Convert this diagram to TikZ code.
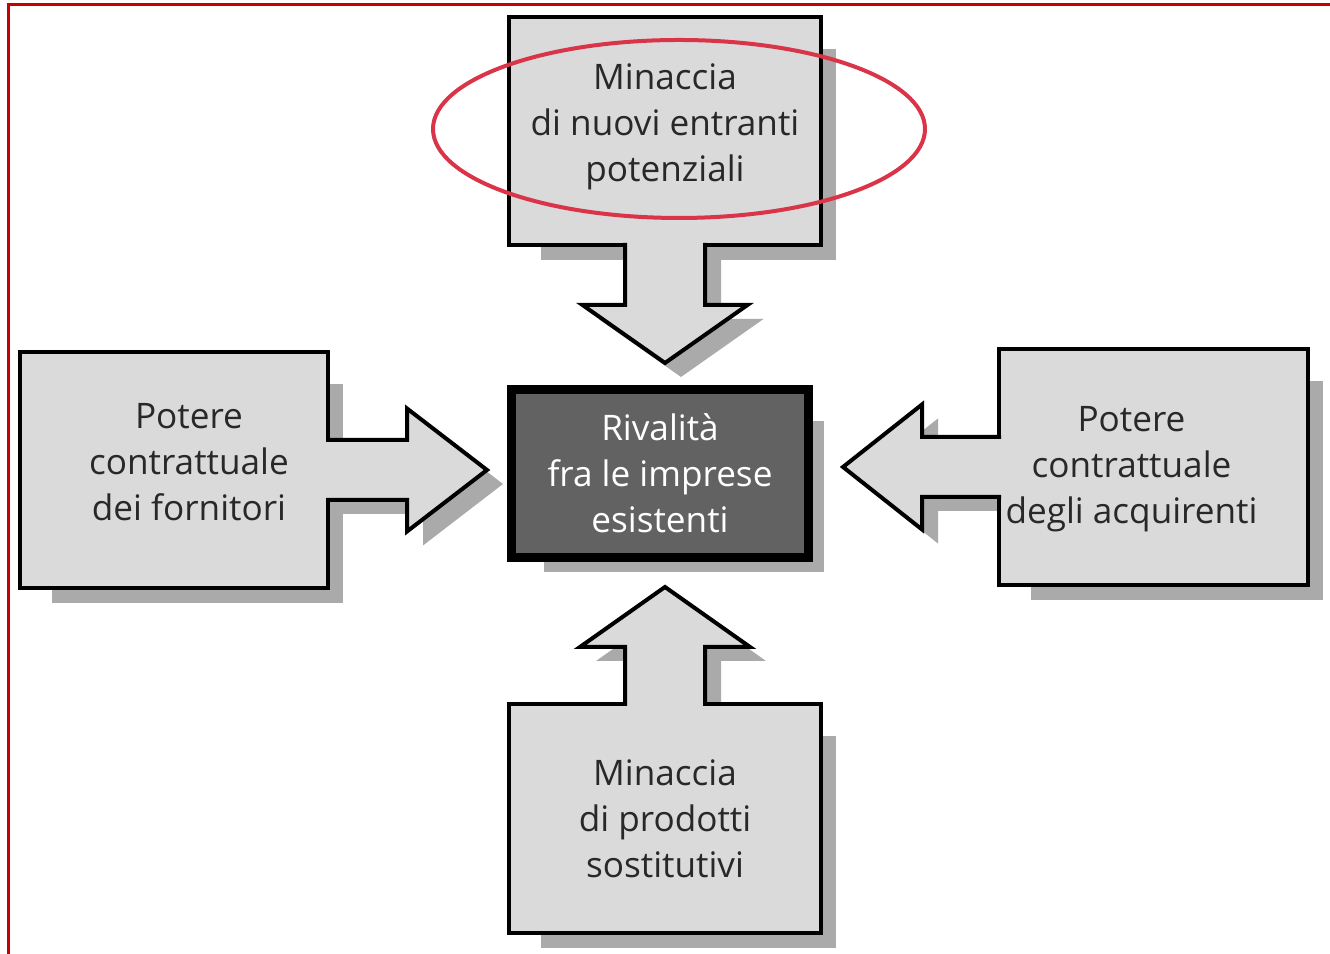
\documentclass[tikz,border=0pt]{standalone}
\usepackage{fontspec}
\setmainfont{Open Sans}
\usetikzlibrary{calc, backgrounds}

\definecolor{forcefill}{RGB}{218,218,218}
\definecolor{rivalfill}{RGB}{98,98,98}
\definecolor{shadowgray}{RGB}{170,170,170}
\definecolor{labelgray}{RGB}{40,40,40}
\definecolor{framered}{RGB}{200,0,0}
\definecolor{markred}{RGB}{218,52,72}

\tikzset{
  forcebox/.style={draw=black, line width=0.04cm, fill=forcefill, outer sep=0pt},
  forcetext/.style={text=labelgray, align=center, font=\fontsize{10}{13.1}\selectfont},
  forcearrow/.style={draw=black, line width=0.04cm, fill=forcefill},
  dropshade/.style={fill=shadowgray},
}

\begin{document}
\begin{tikzpicture}
    \useasboundingbox (0,0) rectangle (13.30,-9.54);
    % cornice rossa
    \draw[framered, line width=0.03cm] (0.09,-9.54) -- (0.09,-0.045) -- (13.30,-0.045);

    % le cinque forze
    \node[forcebox, forcetext, text=white, line width=0.09cm, fill=rivalfill,
          minimum width=2.97cm, minimum height=1.68cm] (rival) at (6.60,-4.735)
          {Rivalità\\fra le imprese\\esistenti};
    \node[forcebox, minimum width=3.12cm, minimum height=2.28cm,
          label={[forcetext, yshift=0.04cm]center:Minaccia\\di nuovi entranti\\potenziali}]
          (entranti) at (6.65,-1.31) {};
    \node[forcebox, minimum width=3.08cm, minimum height=2.36cm,
          label={[forcetext, xshift=0.15cm, yshift=0.08cm]center:Potere\\contrattuale\\dei fornitori}]
          (fornitori) at (1.74,-4.70) {};
    \node[forcebox, minimum width=3.09cm, minimum height=2.36cm,
          label={[forcetext, xshift=-0.22cm, yshift=-0.02cm]center:Potere\\contrattuale\\degli acquirenti}]
          (acquirenti) at (11.535,-4.67) {};
    \node[forcebox, forcetext, minimum width=3.12cm, minimum height=2.29cm] (sostitutivi) at (6.65,-8.185)
          {Minaccia\\di prodotti\\sostitutivi};

    % ombre
    \begin{scope}[on background layer]
        \foreach \f in {entranti, fornitori, acquirenti, sostitutivi, rival}
            \fill[dropshade] ($(\f.north west)+(0.32,-0.32)$) rectangle ($(\f.south east)+(0.15,-0.15)$);
        \fill[dropshade] ($(entranti.south)+(-0.4,0.02)+(0.16,-0.14)$) -- ++(0,-0.62) -- ++(-0.425,0)
            -- ++(0.825,-0.58) -- ++(0.825,0.58) -- ++(-0.425,0) -- ++(0,0.62) -- cycle;
        \fill[dropshade] ($(fornitori.east)+(-0.02,0.3)+(0.16,-0.14)$) -- ++(0.81,0) -- ++(0,0.315)
            -- ++(0.80,-0.615) -- ++(-0.80,-0.615) -- ++(0,0.315) -- ++(-0.81,0) -- cycle;
        \fill[dropshade] ($(acquirenti.west)+(0.02,0.3)+(0.16,-0.14)$) -- ++(-0.79,0) -- ++(0,0.325)
            -- ++(-0.79,-0.625) -- ++(0.79,-0.625) -- ++(0,0.325) -- ++(0.79,0) -- cycle;
        \fill[dropshade] ($(sostitutivi.north)+(-0.4,-0.02)+(0.16,-0.14)$) -- ++(0,0.59) -- ++(-0.45,0)
            -- ++(0.85,0.6) -- ++(0.85,-0.6) -- ++(-0.45,0) -- ++(0,-0.59) -- cycle;
    \end{scope}

    % frecce verso il centro
    \draw[forcearrow] ($(entranti.south)+(-0.4,0.02)$) -- ++(0,-0.62) -- ++(-0.425,0)
        -- ++(0.825,-0.58) -- ++(0.825,0.58) -- ++(-0.425,0) -- ++(0,0.62);
    \draw[forcearrow] ($(fornitori.east)+(-0.02,0.3)$) -- ++(0.81,0) -- ++(0,0.315)
        -- ++(0.80,-0.615) -- ++(-0.80,-0.615) -- ++(0,0.315) -- ++(-0.81,0);
    \draw[forcearrow] ($(acquirenti.west)+(0.02,0.3)$) -- ++(-0.79,0) -- ++(0,0.325)
        -- ++(-0.79,-0.625) -- ++(0.79,-0.625) -- ++(0,0.325) -- ++(0.79,0);
    \draw[forcearrow] ($(sostitutivi.north)+(-0.4,-0.02)$) -- ++(0,0.59) -- ++(-0.45,0)
        -- ++(0.85,0.6) -- ++(0.85,-0.6) -- ++(-0.45,0) -- ++(0,-0.59);

    % evidenziazione
    \draw[markred, line width=0.04cm] (6.79,-1.29) ellipse [x radius=2.46, y radius=0.89];
\end{tikzpicture}
\end{document}
